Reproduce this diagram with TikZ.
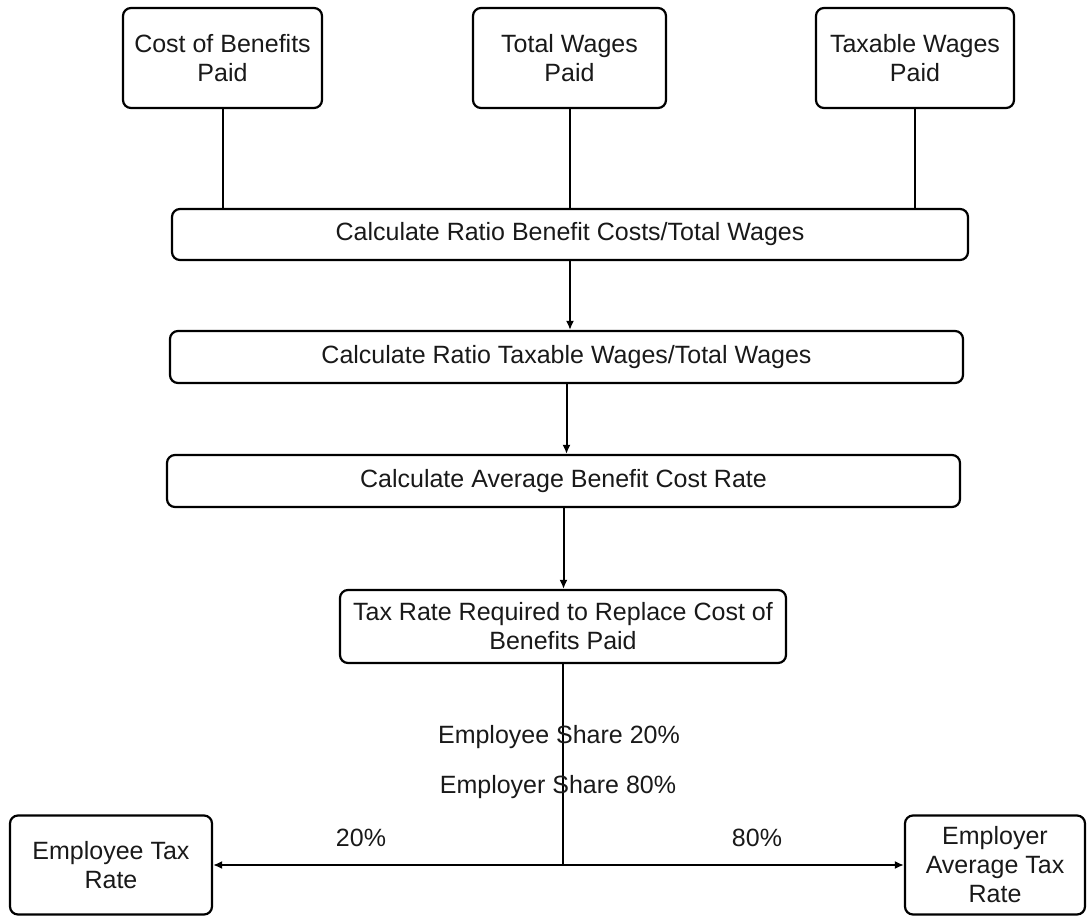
\documentclass[tikz,border=0pt]{standalone}
\usepackage{fontspec}
\setmainfont{Liberation Sans}
\usetikzlibrary{arrows.meta}
\begin{document}
\begin{tikzpicture}[x=1pt,y=-1pt,
  box/.style={draw, line width=2.2pt, rounded corners=8pt, inner sep=0pt, align=center,
     text=black!90, font=\fontsize{25}{29}\selectfont},
  conn/.style={line width=2pt},
  arr/.style={line width=2pt, -{Latex[length=9pt,width=8pt]}},
  lbl/.style={inner sep=0pt, text=black!90, font=\fontsize{25}{29}\selectfont}]
\useasboundingbox (0,0) rectangle (1090,916);
% top boxes
\node[box, minimum width=199pt, minimum height=100pt] (cob) at (222.5,58) {Cost of Benefits\\Paid};
\node[box, minimum width=193pt, minimum height=100pt] (tw) at (569.5,58) {Total Wages\\Paid};
\node[box, minimum width=198pt, minimum height=100pt] (tx) at (915,58) {Taxable Wages\\Paid};
% middle boxes
\node[box, minimum width=796pt, minimum height=51pt] (b1) at (570,234.5) {Calculate Ratio Benefit Costs/Total Wages};
\node[box, minimum width=793pt, minimum height=52pt] (b2) at (566.5,357) {Calculate Ratio Taxable Wages/Total Wages};
\node[box, minimum width=793pt, minimum height=52pt] (b3) at (563.5,481) {Calculate Average Benefit Cost Rate};
\node[box, minimum width=446pt, minimum height=73pt] (b4) at (563,626.5) {Tax Rate Required to Replace Cost of\\Benefits Paid};
% bottom boxes
\node[box, minimum width=202pt, minimum height=99pt] (ee) at (111,865) {Employee Tax\\Rate};
\node[box, minimum width=180pt, minimum height=99pt] (er) at (995,865) {Employer\\Average Tax\\Rate};
% connectors
\draw[conn] (cob.south) -- (cob.south |- b1.north);
\draw[conn] (tw.south) -- (tw.south |- b1.north);
\draw[conn] (tx.south) -- (tx.south |- b1.north);
\draw[arr] (b1.south) -- (b1.south |- b2.north);
\draw[arr] (b2.south) -- (b2.south |- b3.north);
\draw[arr] (b3.south) -- (b3.south |- b4.north);
\coordinate (j) at (b4.south |- ee.east);
\draw[conn] (b4.south) -- (j);
\draw[arr] (j) -- (ee.east);
\draw[arr] (j) -- (er.west);
% labels
\node[lbl] (l1) at (559,737) {Employee Share 20\%};
\node[lbl] (l2) at (558,787) {Employer Share 80\%};
\node[lbl] (p20) at (361,838) {20\%};
\node[lbl] (p80) at (757,838) {80\%};
\end{tikzpicture}
\end{document}
